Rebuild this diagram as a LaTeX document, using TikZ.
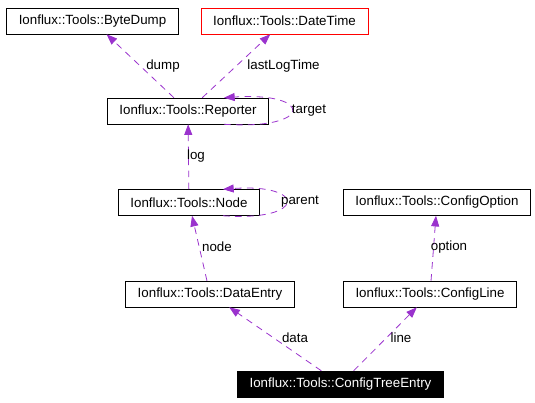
\documentclass[tikz,border=0pt]{standalone}
\usepackage{fontspec}
\setmainfont{Liberation Sans}
\usetikzlibrary{arrows.meta,calc}
\definecolor{linkpurple}{HTML}{9A32CD}

\begin{document}
\begin{tikzpicture}[x=0.75pt,y=-0.75pt,
	cls/.style={draw,thin,minimum height=19.5pt,inner xsep=9pt,inner ysep=0pt,font=\fontsize{10pt}{12pt}\selectfont},
	clsred/.style={cls,draw=red},
	clsmain/.style={cls,fill=black,text=white},
	link/.style={draw=linkpurple,line width=0.6pt,dash pattern=on 5pt off 4pt,-{Triangle[length=8pt,width=6pt,fill=linkpurple]}},
	lbl/.style={inner sep=0pt,font=\fontsize{10pt}{12pt}\selectfont}]
\begin{scope}
	\useasboundingbox (0,0) rectangle (535,403);
	\node[cls] (bytedump) at (92.5, 21) {Ionflux::Tools::ByteDump};
	\node[clsred] (datetime) at (284.5, 21) {Ionflux::Tools::DateTime};
	\node[cls] (reporter) at (188, 111) {Ionflux::Tools::Reporter};
	\node[cls] (node) at (189, 202.5) {Ionflux::Tools::Node};
	\node[cls] (configoption) at (437, 202.5) {Ionflux::Tools::ConfigOption};
	\node[cls] (dataentry) at (210, 294) {Ionflux::Tools::DataEntry};
	\node[cls] (configline) at (430, 294) {Ionflux::Tools::ConfigLine};
	\node[clsmain] (configtreeentry) at (340.5, 384) {Ionflux::Tools::ConfigTreeEntry};
	\draw[link] (reporter) -- (bytedump);
	\draw[link] (reporter) -- (datetime);
	\draw[link] ($(reporter.south)+(36,0)$) .. controls +(90,6) and +(90,-6) .. ($(reporter.north)+(36,0)$);
	\draw[link] (node) -- (reporter);
	\draw[link] ($(node.south)+(34,0)$) .. controls +(84,6) and +(84,-6) .. ($(node.north)+(34,0)$);
	\draw[link] (dataentry) -- (node);
	\draw[link] (configline) -- (configoption);
	\draw[link] (configtreeentry) -- (dataentry);
	\draw[link] (configtreeentry) -- (configline);
	\node[lbl] (dumplbl) at (163, 66) {dump};
	\node[lbl] (lastlogtimelbl) at (283.5, 66) {lastLogTime};
	\node[lbl] (targetlbl) at (309, 111) {target};
	\node[lbl] (loglbl) at (196, 156) {log};
	\node[lbl] (parentlbl) at (300, 202) {parent};
	\node[lbl] (nodelbl) at (217, 247) {node};
	\node[lbl] (optionlbl) at (449, 247) {option};
	\node[lbl] (datalbl) at (295, 338) {data};
	\node[lbl] (linelbl) at (401, 338) {line};
\end{scope}
\end{tikzpicture}
\end{document}
